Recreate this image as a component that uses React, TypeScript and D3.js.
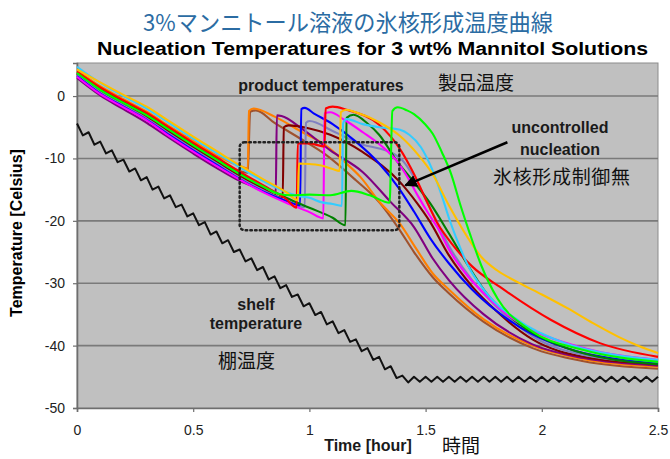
import React, { useEffect, useRef } from 'react'
import * as d3 from 'd3'

type Pt = [number, number]

// time [hour], temperature [C]
const yellowSeries: Pt[] = [
  [0, 4.3], [0.1, 2.2], [0.2, 0.2], [0.3, -1.7], [0.4, -4.1], [0.5, -6.5], [0.6, -8.8], [0.7, -11.1], [0.8, -13.3], [0.9, -15.4], [0.95, -16.7],
  [0.955, -10.8], [1.0, -10.9], [1.06, -11.2], [1.1, -11.7], [1.13, -12.0],
  [1.135, -2.6], [1.16, -2.2], [1.2, -2.6], [1.3, -4.2], [1.39, -6.4], [1.47, -9.5], [1.53, -12.5], [1.6, -17.5], [1.68, -22.6], [1.74, -25.8],
  [1.81, -28], [1.9, -29.9], [2.0, -31.8], [2.11, -34.0], [2.22, -36.4], [2.33, -38.6], [2.42, -40.1], [2.5, -41.2],
]
const cyanSeries: Pt[] = [
  [0, 4.7], [0.1, 2.1], [0.2, 0], [0.3, -2.0], [0.4, -4.4], [0.5, -6.8], [0.6, -9.1], [0.7, -11.4], [0.8, -13.6], [0.9, -15.4], [0.95, -16.0],
  [1.0, -16.3], [1.05, -17.0], [1.1, -17.3], [1.14, -17.6],
  [1.145, -4.4], [1.16, -3.7], [1.23, -4.5], [1.3, -5.0], [1.39, -5.4], [1.43, -6.2], [1.48, -8.2], [1.53, -11.9], [1.57, -16], [1.6, -19.5],
  [1.64, -23.5], [1.68, -27], [1.76, -31.5], [1.9, -36], [2.1, -39.6], [2.3, -41.4], [2.5, -42.3],
]
const limeSeries: Pt[] = [
  [0, 3.7], [0.1, 1.0], [0.2, -1.1], [0.3, -3.1], [0.4, -5.5], [0.5, -7.9], [0.6, -10.2], [0.7, -12.5], [0.8, -14.5], [0.87, -15.7], [0.92, -15.9],
  [1.0, -15.8], [1.09, -15.9], [1.18, -15.2], [1.26, -15.9], [1.345, -17.1],
  [1.357, -2.4], [1.38, -1.8], [1.42, -2.3], [1.45, -2.9], [1.5, -4.6], [1.53, -6.0], [1.57, -9], [1.61, -12.5], [1.65, -17.5], [1.69, -22],
  [1.74, -27.2], [1.81, -32.5], [1.95, -37.5], [2.18, -40.7], [2.5, -42.6],
]
const redSeries: Pt[] = [
  [0, 3.9], [0.1, 1.4], [0.2, -0.7], [0.3, -2.7], [0.4, -5.1], [0.5, -7.5], [0.6, -9.8], [0.7, -12.1], [0.8, -14.3], [0.9, -16.5], [0.945, -17.9],
  [0.95, -7.6], [1.0, -7.6], [1.04, -7.9], [1.065, -8.1],
  [1.07, -2.0], [1.1, -1.7], [1.16, -2.2], [1.3, -4.6], [1.39, -8.5], [1.45, -12.5], [1.5, -16.5], [1.55, -20.3], [1.62, -24], [1.7, -27.3],
  [1.82, -30.6], [2.04, -35.9], [2.25, -39.6], [2.5, -41.8],
]
const magentaSeries: Pt[] = [
  [0, 3.1], [0.1, 0.3], [0.2, -1.8], [0.3, -3.9], [0.4, -6.5], [0.5, -8.9], [0.6, -11.2], [0.7, -13.4], [0.8, -15.4], [0.9, -17.1], [1.0, -18.6], [1.06, -19.6],
  [1.065, -2.8], [1.09, -2.6], [1.15, -3.8], [1.23, -5.8], [1.31, -8], [1.38, -10.6], [1.43, -13.5], [1.47, -16.2], [1.51, -18.7], [1.55, -21],
  [1.61, -25.2], [1.68, -28.8], [1.75, -31.6], [1.85, -35], [1.96, -37.5], [2.18, -40.4], [2.5, -42.3],
]
const blueSeries: Pt[] = [
  [0, 3.2], [0.1, 0.4], [0.2, -1.7], [0.3, -3.8], [0.4, -6.3], [0.5, -8.7], [0.6, -11.0], [0.7, -13.3], [0.8, -15.3], [0.9, -16.8], [0.96, -17.5],
  [0.965, -2.1], [0.98, -1.9], [1.02, -2.8], [1.1, -4.5], [1.2, -7.3], [1.3, -10.8], [1.38, -14.5], [1.45, -18.5], [1.52, -22.8], [1.6, -26.8],
  [1.7, -31], [1.8, -34.3], [1.95, -38], [2.15, -40.9], [2.35, -42.3], [2.5, -42.9],
]
const slateSeries: Pt[] = [
  [0, 3.4], [0.1, 0.6], [0.2, -1.5], [0.3, -3.6], [0.4, -6.1], [0.5, -8.5], [0.6, -10.8], [0.7, -13.1], [0.8, -15.1], [0.9, -16.8], [0.98, -17.8],
  [0.985, -4.3], [1.0, -4.0], [1.1, -5.6], [1.23, -7.8], [1.3, -8.4], [1.35, -9.0], [1.4, -10.3], [1.45, -13], [1.52, -18], [1.6, -24],
  [1.7, -29.5], [1.8, -33.6], [1.96, -38.5], [2.18, -41.5], [2.5, -42.8],
]
const orangeSeries: Pt[] = [
  [0, 4.1], [0.1, 1.6], [0.2, -0.5], [0.3, -2.5], [0.4, -4.9], [0.5, -7.2], [0.6, -9.5], [0.7, -11.2], [0.735, -11.6],
  [0.74, -2.4], [0.76, -2.0], [0.85, -3.3], [0.97, -5.8], [1.07, -7.9], [1.15, -10.5], [1.22, -13], [1.3, -16.9], [1.39, -20.5], [1.46, -24.5],
  [1.53, -28.4], [1.6, -31], [1.75, -35.8], [1.96, -40], [2.18, -42.2], [2.5, -43.4],
]
const siennaSeries: Pt[] = [
  [0, 3.6], [0.1, 1.0], [0.2, -1.1], [0.3, -3.1], [0.4, -5.5], [0.5, -7.9], [0.6, -10.2], [0.7, -12.0], [0.735, -12.3],
  [0.745, -2.5], [0.77, -2.3], [0.85, -4.3], [0.96, -6.8], [1.07, -9.4], [1.2, -13.5], [1.3, -17], [1.38, -21], [1.45, -25], [1.53, -29],
  [1.6, -31.6], [1.75, -36.2], [1.96, -40.4], [2.18, -42.5], [2.5, -43.7],
]
const purpleSeries: Pt[] = [
  [0, 2.9], [0.1, 0.1], [0.2, -2.1], [0.3, -4.3], [0.4, -6.8], [0.5, -9.2], [0.6, -11.5], [0.7, -13.6], [0.8, -15.1], [0.855, -16.0],
  [0.86, -3.1], [0.88, -3.2], [0.97, -5.3], [1.09, -8.7], [1.23, -12.2], [1.35, -17], [1.45, -21], [1.53, -26], [1.6, -29.5], [1.75, -35],
  [1.96, -39.8], [2.18, -42], [2.5, -43.2],
]
const maroonSeries: Pt[] = [
  [0, 3.5], [0.1, 0.7], [0.2, -1.4], [0.3, -3.4], [0.4, -5.8], [0.5, -8.2], [0.6, -10.5], [0.7, -12.8], [0.8, -14.8], [0.885, -16.3],
  [0.89, -5.0], [0.91, -4.7], [1.0, -5.2], [1.09, -6.2], [1.23, -9], [1.39, -13.8], [1.46, -17], [1.52, -20.2], [1.6, -25.5], [1.7, -30.5],
  [1.8, -34.3], [1.96, -39], [2.18, -41.8], [2.5, -43],
]
const greenSeries: Pt[] = [
  [0, 3.8], [0.1, 1.2], [0.2, -0.9], [0.3, -2.9], [0.4, -5.3], [0.5, -7.7], [0.6, -10.0], [0.7, -12.3], [0.8, -14.4], [0.9, -16.3], [1.0, -17.9],
  [1.1, -19.5], [1.155, -20.7],
  [1.16, -3.5], [1.19, -3.0], [1.25, -4.4], [1.3, -6.2], [1.38, -10.6], [1.45, -13.8], [1.52, -17.2], [1.6, -22], [1.68, -27], [1.76, -31.5],
  [1.9, -36.5], [2.1, -40.3], [2.3, -42.2], [2.5, -43.0],
]

// shelf temperature, one reading every 0.025 hour from t = 0
const shelfStep = 0.025
const shelfTemps = [
  -4.4, -6.3, -5.8, -7.8, -7.3, -9.2, -8.7, -10.6, -10.2, -12.1,
  -11.6, -13.5, -13.0, -15.0, -14.5, -16.4, -15.9, -17.8, -17.4, -19.3,
  -18.8, -20.7, -20.2, -22.2, -21.7, -23.6, -23.1, -25.0, -24.6, -26.5,
  -26.0, -27.9, -27.4, -29.4, -28.9, -30.8, -30.3, -32.2, -31.8, -33.7,
  -33.2, -35.1, -34.6, -36.6, -36.1, -38.0, -37.5, -39.4, -39.0, -40.9,
  -40.4, -42.3, -41.8, -43.8, -43.3, -45.2, -44.8, -45.9, -45.0, -45.8,
  -45.0, -45.8, -45.0, -45.8, -45.0, -45.8, -45.0, -45.8, -45.0, -45.8,
  -45.0, -45.8, -45.0, -45.8, -45.0, -45.8, -45.0, -45.8, -45.0, -45.8,
  -45.0, -45.8, -45.0, -45.8, -45.0, -45.8, -45.0, -45.8, -45.0, -45.8,
  -45.0, -45.8, -45.0, -45.8, -45.0, -45.8, -45.0, -45.8, -45.0, -45.8,
  -45.0,
]

const productSeries: { color: string; data: Pt[] }[] = [
  { color: '#A0522D', data: siennaSeries },
  { color: '#FF7F00', data: orangeSeries },
  { color: '#800080', data: purpleSeries },
  { color: '#800000', data: maroonSeries },
  { color: '#8080C0', data: slateSeries },
  { color: '#0000FF', data: blueSeries },
  { color: '#008000', data: greenSeries },
  { color: '#FF00FF', data: magentaSeries },
  { color: '#FF0000', data: redSeries },
  { color: '#33CCFF', data: cyanSeries },
  { color: '#FFC000', data: yellowSeries },
  { color: '#00FF00', data: limeSeries },
]

const xTicks = [0, 0.5, 1, 1.5, 2, 2.5]
const xTickLabels = ['0', '0.5', '1', '1.5', '2', '2.5']
const yTicks = [-50, -40, -30, -20, -10, 0]
const gridValues = [-40, -30, -20, -10, 0]

// annotation box (hours / Celsius) and arrow
const boxTime = [0.7, 1.387]
const boxTemp = [-7.4, -21.5]
const arrowFrom: Pt = [1.852, -7.4]
const arrowTo: Pt = [1.413, -14.3]

const sans = '"Liberation Sans", Arial, sans-serif'
const jp = '"Noto Sans CJK JP", "Noto Sans CJK SC", sans-serif'

export default function App() {
  const ref = useRef<SVGSVGElement>(null)

  useEffect(() => {
    const svg = d3.select(ref.current)
    svg.selectAll('*').remove()

    const width = 670
    const height = 459
    const left = 77
    const right = 658
    const top = 63
    const bottom = 408

    const x = d3.scaleLinear().domain([0, 2.5]).range([left, right])
    const y = d3.scaleLinear().domain([-50, 5.3]).range([bottom, top])

    svg.append('rect').attr('width', width).attr('height', height).attr('fill', '#fff')

    // titles
    svg.append('text')
      .attr('x', 348).attr('y', 31)
      .attr('text-anchor', 'middle')
      .attr('textLength', 410).attr('lengthAdjust', 'spacingAndGlyphs')
      .style('font-family', jp).style('font-size', '23px')
      .attr('fill', '#2B6CA3')
      .text('3%マンニトール溶液の氷核形成温度曲線')

    svg.append('text')
      .attr('x', 372.5).attr('y', 55)
      .attr('text-anchor', 'middle')
      .attr('textLength', 551).attr('lengthAdjust', 'spacingAndGlyphs')
      .style('font-family', sans).style('font-size', '18px').style('font-weight', 'bold')
      .text('Nucleation Temperatures for 3 wt% Mannitol Solutions')

    // plot area
    svg.append('rect')
      .attr('x', left).attr('y', top)
      .attr('width', right - left).attr('height', bottom - top)
      .attr('fill', '#C0C0C0')
      .attr('stroke', '#8C8C8C').attr('stroke-width', 1)

    svg.append('g')
      .selectAll('line')
      .data(gridValues)
      .enter()
      .append('line')
      .attr('x1', left).attr('x2', right)
      .attr('y1', d => y(d)).attr('y2', d => y(d))
      .attr('stroke', '#7A7A7A').attr('stroke-width', 1.6)

    // axes
    const yAxis = svg.append('g')
      .attr('transform', `translate(${left},0)`)
      .call(d3.axisLeft(y).tickValues(yTicks).tickSize(4).tickPadding(8).tickFormat(d => String(d)))
    const xAxis = svg.append('g')
      .attr('transform', `translate(0,${bottom})`)
      .call(d3.axisBottom(x).tickValues(xTicks).tickSize(4).tickPadding(13)
        .tickFormat((d, i) => xTickLabels[i]))

    ;[yAxis, xAxis].forEach(g => {
      g.select('.domain').attr('stroke', '#6E6E6E').attr('stroke-width', 1.6)
      g.selectAll('.tick line').attr('stroke', '#6E6E6E').attr('stroke-width', 1.2)
      g.selectAll('.tick text')
        .attr('fill', '#222')
        .style('font-family', sans).style('font-size', '14px')
    })

    // product temperature lines
    const line = d3.line<Pt>()
      .x(d => x(d[0]))
      .y(d => y(d[1]))
      .curve(d3.curveMonotoneX)

    svg.append('g')
      .selectAll('path')
      .data(productSeries)
      .enter()
      .append('path')
      .attr('d', d => line(d.data))
      .attr('fill', 'none')
      .attr('stroke', d => d.color)
      .attr('stroke-width', 2.1)
      .attr('stroke-linejoin', 'round')

    // shelf temperature
    const shelfLine = d3.line<number>()
      .x((d, i) => x(i * shelfStep))
      .y(d => y(d))
    svg.append('path')
      .attr('d', shelfLine(shelfTemps))
      .attr('fill', 'none')
      .attr('stroke', '#111')
      .attr('stroke-width', 2)
      .attr('stroke-linejoin', 'round')

    // dotted box round the nucleation events
    svg.append('rect')
      .attr('x', x(boxTime[0])).attr('y', y(boxTemp[0]))
      .attr('width', x(boxTime[1]) - x(boxTime[0]))
      .attr('height', y(boxTemp[1]) - y(boxTemp[0]))
      .attr('rx', 5)
      .attr('fill', 'none')
      .attr('stroke', '#222')
      .attr('stroke-width', 2.5)
      .attr('stroke-dasharray', '1.5 3.2')
      .attr('stroke-linecap', 'round')

    // arrow
    svg.append('defs').append('marker')
      .attr('id', 'head')
      .attr('viewBox', '0 0 10 10')
      .attr('refX', 9).attr('refY', 5)
      .attr('markerWidth', 5).attr('markerHeight', 5)
      .attr('orient', 'auto')
      .append('path')
      .attr('d', 'M0,0 L10,5 L0,10 z')
      .attr('fill', '#000')
    svg.append('line')
      .attr('x1', x(arrowFrom[0])).attr('y1', y(arrowFrom[1]))
      .attr('x2', x(arrowTo[0])).attr('y2', y(arrowTo[1]))
      .attr('stroke', '#000').attr('stroke-width', 2.5)
      .attr('marker-end', 'url(#head)')

    // annotations
    const label = (tx: number, ty: number, s: string, jap = false, anchor = 'middle') =>
      svg.append('text')
        .attr('x', tx).attr('y', ty)
        .attr('text-anchor', anchor)
        .style('font-family', jap ? jp : sans)
        .style('font-size', jap ? '19px' : '16px')
        .style('font-weight', jap ? 'normal' : 'bold')
        .attr('fill', jap ? '#111' : '#1a1a1a')
        .text(s)

    label(321, 91, 'product temperatures')
    label(438, 90, '製品温度', true, 'start')
    label(560, 133, 'uncontrolled')
    label(560, 155, 'nucleation')
    label(493, 184, '氷核形成制御無', true, 'start').attr('textLength', 137).attr('lengthAdjust', 'spacing')
    label(256, 310, 'shelf')
    label(256, 329, 'temperature')
    label(218, 368, '棚温度', true, 'start')
    label(368, 451, 'Time [hour]')
    label(442, 453, '時間', true, 'start')

    svg.append('text')
      .attr('transform', 'translate(22,233) rotate(-90)')
      .attr('text-anchor', 'middle')
      .style('font-family', sans).style('font-size', '16px').style('font-weight', 'bold')
      .text('Temperature [Celsius]')
  }, [])

  return (
    <svg
      ref={ref}
      width={670}
      height={459}
      style={{ position: 'absolute', left: 0, top: 0, display: 'block' }}
    />
  )
}
